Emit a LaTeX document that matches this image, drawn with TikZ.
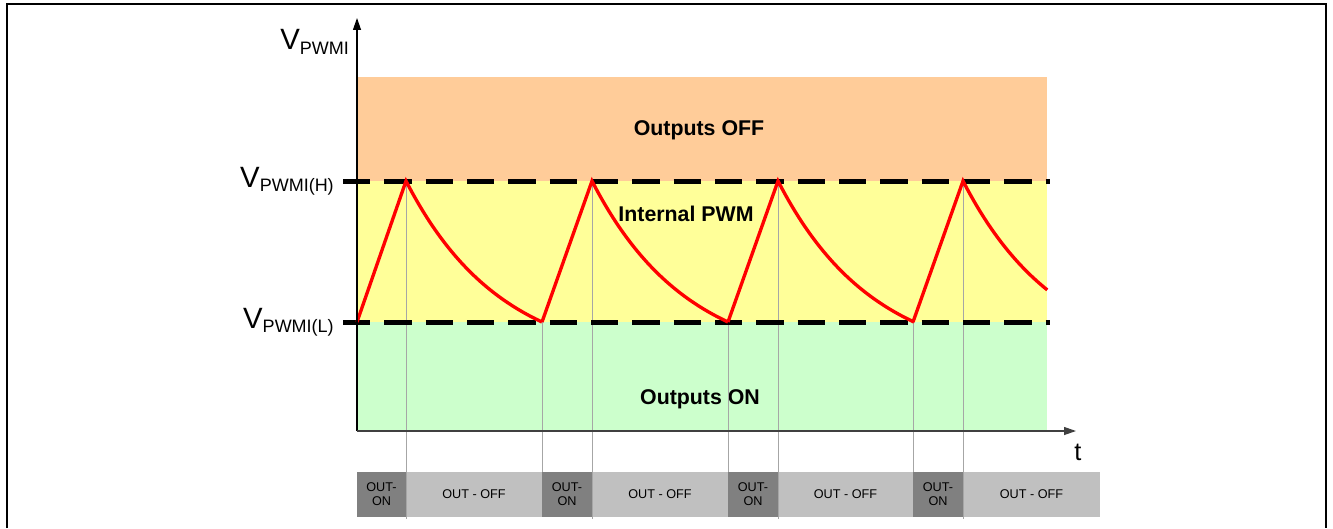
\documentclass[tikz,border=0pt]{standalone}
\usepackage{fontspec}
\setmainfont{Liberation Sans}
\usetikzlibrary{arrows.meta}

\definecolor{offzone}{HTML}{FFCC99}
\definecolor{pwmzone}{HTML}{FFFF99}
\definecolor{onzone}{HTML}{CCFFCC}
\definecolor{cellon}{HTML}{808080}
\definecolor{celloff}{HTML}{C0C0C0}

\newcommand{\vlevel}[1]{{\fontsize{22}{22}\selectfont V}\raisebox{-3.5pt}{\fontsize{13.5}{13.5}\selectfont #1}}

\tikzset{
  zonetext/.style={font=\fontsize{16}{16}\selectfont\bfseries},
  celltext/.style={font=\fontsize{9.5}{10.5}\selectfont, align=center},
  levelline/.style={line width=3.75pt, dash pattern=on 20.6pt off 10.4pt},
  redwave/.style={red, line width=2.5pt},
  guide/.style={black!35, line width=0.75pt},
  axis/.style={line width=0.9pt, -{Triangle[length=9pt,width=6pt]}}
}

\begin{document}
\begin{tikzpicture}[x=0.75pt, y=-0.75pt]
    \useasboundingbox (0,0) rectangle (1333,528);
    % frame
    \draw[line width=1.5pt] (7,528) -- (7,4) -- (1326,4) -- (1326,528);

    % zones
    \fill[offzone] (357,77) rectangle (1047,181);
    \fill[pwmzone] (357,181) rectangle (1047,322);
    \fill[onzone] (357,322) rectangle (1047,431);

    \node[zonetext] (offlbl) at (699,130) {Outputs OFF};
    \node[zonetext] (pwmlbl) at (686,214) {Internal PWM};
    \node[zonetext] (onlbl) at (700,399) {Outputs ON};

    % output bar
    \foreach \a/\b/\c [count=\i] in {357/406/542, 542/592/728, 728/778/913, 913/963/1100} {
        \ifnum\i>1
            \draw[guide] (\a,322) -- (\a,472);
        \fi
        \fill[cellon] (\a,472) rectangle (\b,517);
        \fill[celloff] (\b,472) rectangle (\c,517);
        \node[celltext] (on\i) at ({(\a+\b)/2},494.5) {OUT-\\ON};
        \node[celltext] (off\i) at ({(\b+\c)/2},494.5) {OUT - OFF};
        \draw[guide] (\b,181) -- (\b,519);
    }

    % thresholds
    \draw[levelline] (343,181) -- (1050,181);
    \draw[levelline] (343,322) -- (1050,322);

    % signal
    \foreach \a/\b/\d in {357/406/1, 542/592/1, 728/778/1, 913/963/0.62} {
        \draw[redwave] (\a,322) -- (\b,181)
            -- plot[domain=0:\d, samples=40, smooth] ({\b+136*\x},{181+185.45*(1-exp(-\x/0.7))});
    }

    % axes
    \coordinate (origin) at (357,431);
    \coordinate (ytip) at (357,18);
    \coordinate (xtip) at (1076,431);
    \draw[axis] (origin) -- (ytip);
    \draw[axis, black!75] (origin) -- (xtip);

    \node[anchor=base west, inner sep=0pt] (vaxis) at (280,50) {\vlevel{PWMI}};
    \node[anchor=base east, inner sep=0pt] (vhigh) at (334,187) {\vlevel{PWMI(H)}};
    \node[anchor=base east, inner sep=0pt] (vlow) at (334,328) {\vlevel{PWMI(L)}};
    \node[font=\fontsize{19}{19}\selectfont] (tlbl) at (1078,452) {t};
\end{tikzpicture}
\end{document}
